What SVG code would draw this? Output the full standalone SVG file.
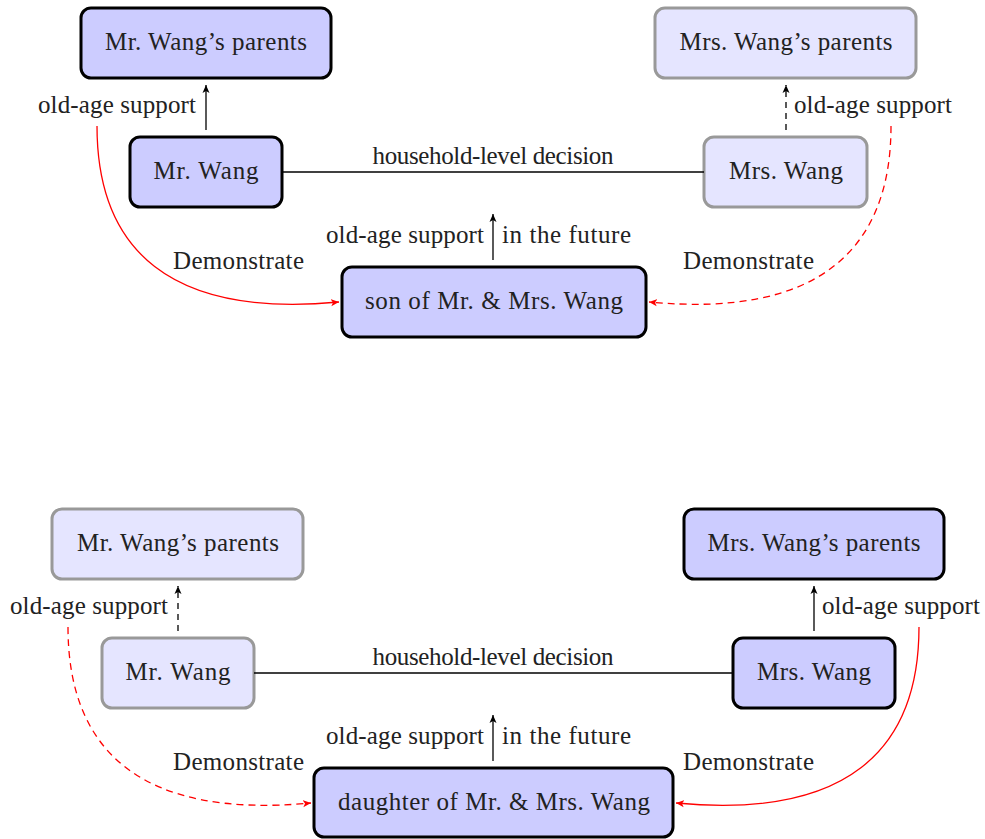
<svg xmlns="http://www.w3.org/2000/svg" width="985" height="839" viewBox="0 0 985 839">
<style>
text{font-family:"Liberation Serif","Times New Roman",serif;font-size:25px;fill:#222}
.c{text-anchor:middle}
.e{text-anchor:end}
.act rect{fill:#ccccff;stroke:#000;stroke-width:3}
.pas rect{fill:#e5e5ff;stroke:#999;stroke-width:3}
.ln{fill:none;stroke:#000;stroke-width:1.3}
.red{fill:none;stroke:#f00;stroke-width:1.3}
.dk{stroke-dasharray:6 5}
.dr{stroke-dasharray:7 5}
</style>
<defs>
<marker id="ab" markerWidth="10" markerHeight="10" refX="8" refY="5" orient="auto" markerUnits="userSpaceOnUse"><path d="M0,1.5 L8,5 L0,8.5 L2,5 Z" fill="#000"/></marker>
<marker id="ar" markerWidth="10" markerHeight="10" refX="8" refY="5" orient="auto" markerUnits="userSpaceOnUse"><path d="M0,1.5 L8,5 L0,8.5 L2,5 Z" fill="#f00"/></marker>
</defs>

<!-- top panel -->
<g id="t-mr-parents" class="act"><rect x="81" y="8" width="250" height="70" rx="10"/><text class="c" x="206" y="50" textLength="202">Mr. Wang’s parents</text></g>
<g id="t-mrs-parents" class="pas"><rect x="655" y="8" width="261" height="70" rx="10"/><text class="c" x="786" y="50" textLength="213">Mrs. Wang’s parents</text></g>
<g id="t-mr" class="act"><rect x="130" y="137" width="152" height="70" rx="10"/><text class="c" x="206" y="179" textLength="105">Mr. Wang</text></g>
<g id="t-mrs" class="pas"><rect x="704" y="137" width="163" height="70" rx="10"/><text class="c" x="786" y="179" textLength="114">Mrs. Wang</text></g>
<g id="t-son" class="act"><rect x="342" y="267" width="304" height="70" rx="10"/><text class="c" x="494" y="309" textLength="258">son of Mr. &amp; Mrs. Wang</text></g>

<!-- bottom panel -->
<g id="b-mr-parents" class="pas"><rect x="52" y="509" width="251" height="70" rx="10"/><text class="c" x="178" y="551" textLength="202">Mr. Wang’s parents</text></g>
<g id="b-mrs-parents" class="act"><rect x="684" y="509" width="260" height="70" rx="10"/><text class="c" x="814" y="551" textLength="213">Mrs. Wang’s parents</text></g>
<g id="b-mr" class="pas"><rect x="102" y="638" width="152" height="70" rx="10"/><text class="c" x="178" y="680" textLength="105">Mr. Wang</text></g>
<g id="b-mrs" class="act"><rect x="733" y="638" width="162" height="70" rx="10"/><text class="c" x="814" y="680" textLength="114">Mrs. Wang</text></g>
<g id="b-daughter" class="act"><rect x="314" y="768" width="359" height="69" rx="10"/><text class="c" x="494" y="810" textLength="312">daughter of Mr. &amp; Mrs. Wang</text></g>

<g id="connectors">
<!-- top -->
<line class="ln" x1="206" y1="130" x2="206" y2="85" marker-end="url(#ab)"/>
<line class="ln dk" x1="786" y1="130" x2="786" y2="85" marker-end="url(#ab)"/>
<line class="ln" x1="282" y1="172" x2="704" y2="172"/>
<line class="ln" x1="493" y1="260" x2="493" y2="214" marker-end="url(#ab)"/>
<path class="red" d="M97,126 C97,250 170,318 339,302" marker-end="url(#ar)"/>
<path class="red dr" d="M891,126 C891,250 818,318 649,302" marker-end="url(#ar)"/>
<!-- bottom -->
<line class="ln dk" x1="178" y1="631" x2="178" y2="586" marker-end="url(#ab)"/>
<line class="ln" x1="814" y1="631" x2="814" y2="586" marker-end="url(#ab)"/>
<line class="ln" x1="254" y1="673" x2="733" y2="673"/>
<line class="ln" x1="493" y1="761" x2="493" y2="715" marker-end="url(#ab)"/>
<path class="red dr" d="M68,627 C68,751 141,819 311,803" marker-end="url(#ar)"/>
<path class="red" d="M919,627 C919,751 846,819 676,803" marker-end="url(#ar)"/>
</g>

<g id="labels">
<text x="38" y="113" textLength="158">old-age support</text>
<text x="794" y="113" textLength="158">old-age support</text>
<text class="c" x="493" y="164" textLength="241">household-level decision</text>
<text class="e" x="484" y="243" textLength="158">old-age support</text>
<text x="502" y="243" textLength="129">in the future</text>
<text x="173" y="269" textLength="131">Demonstrate</text>
<text x="683" y="269" textLength="131">Demonstrate</text>

<text x="10" y="614" textLength="158">old-age support</text>
<text x="822" y="614" textLength="158">old-age support</text>
<text class="c" x="493" y="665" textLength="241">household-level decision</text>
<text class="e" x="484" y="744" textLength="158">old-age support</text>
<text x="502" y="744" textLength="129">in the future</text>
<text x="173" y="770" textLength="131">Demonstrate</text>
<text x="683" y="770" textLength="131">Demonstrate</text>
</g>
</svg>
